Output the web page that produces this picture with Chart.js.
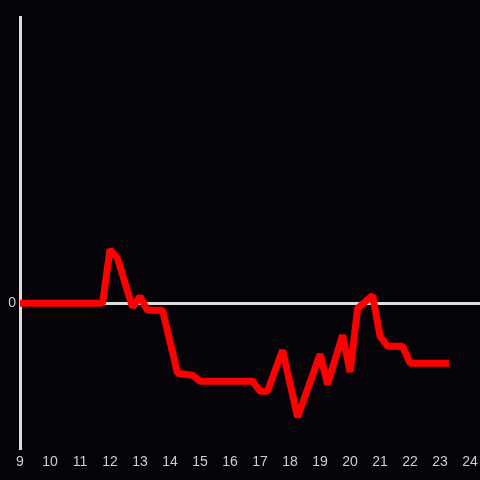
<!DOCTYPE html>
<html>
<head>
<meta charset="utf-8">
<script src="https://cdn.jsdelivr.net/npm/chart.js@4"></script>
<style>
  html, body { margin: 0; padding: 0; background: #050307; }
  #wrap { width: 480px; height: 480px; }
</style>
</head>
<body>
<div id="wrap"><canvas id="chart"></canvas></div>
<script>
var RED = "#ff0000"
var AXIS = "#dedede"
var TEXT = "#cfcfcf"

// hours of the day
var hours = [9, 11.75, 12, 12.25, 12.75, 13, 13.25, 13.75, 14.25, 14.75, 15, 16.75,
  17, 17.25, 17.75, 18.25, 19, 19.25, 19.75, 20, 20.25, 20.75, 21, 21.25, 21.75, 22, 23.3]
var values = [0, 0, 5.4, 4.5, -0.4, 0.7, -0.7, -0.7, -7.0, -7.2, -7.8, -7.8,
  -8.8, -8.8, -4.7, -11.4, -5.1, -8.1, -3.2, -6.9, -0.5, 0.8, -3.3, -4.3, -4.3, -6.0, -6.0]
var xTicks = [9, 10, 11, 12, 13, 14, 15, 16, 17, 18, 19, 20, 21, 22, 23, 24]

var points = hours.map(function (h, i) { return { x: h, y: values[i] } })

var ctx = document.getElementById("chart")
new Chart(ctx, {
  type: 'line',
  data: {
    datasets: [{
      data: points,
      borderColor: RED,
      borderWidth: 7,
      pointRadius: 0,
      tension: 0,
      borderJoinStyle: 'bevel',
      fill: false
    }]
  },
  options: {
    responsive: true,
    maintainAspectRatio: false,
    animation: false,
    layout: { padding: { top: 17, right: -2, left: 0, bottom: 0 } },
    plugins: { legend: { display: false }, tooltip: { enabled: false } },
    scales: {
      x: {
        type: 'linear',
        min: 9,
        max: 24.33,
        afterBuildTicks: function (axis) {
          axis.ticks = xTicks.map(function (v) { return { value: v } })
        },
        afterFit: function (axis) { axis.height = 32 },
        grid: { display: false },
        border: { display: false },
        ticks: {
          color: TEXT,
          font: { family: 'Liberation Sans, Arial, sans-serif', size: 14 },
          padding: -2,
          maxRotation: 0,
          autoSkip: false
        }
      },
      y: {
        min: -14.5,
        max: 28.7,
        afterBuildTicks: function (axis) { axis.ticks = [{ value: 0 }] },
        afterFit: function (axis) { axis.width = 20 },
        grid: {
          color: AXIS,
          lineWidth: 3,
          drawTicks: false
        },
        border: { display: true, color: AXIS, width: 3 },
        ticks: {
          color: TEXT,
          font: { family: 'Liberation Sans, Arial, sans-serif', size: 14 },
          padding: 4
        }
      }
    }
  }
})
</script>
</body>
</html>
